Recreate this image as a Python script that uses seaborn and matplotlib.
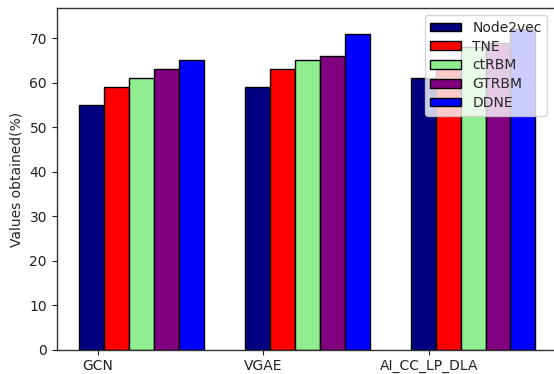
import numpy as np
import pandas as pd
import matplotlib
matplotlib.use("Agg")
import matplotlib.pyplot as plt
import seaborn as sns

# Models compared and methods evaluated on each
models = ["GCN", "VGAE", "AI_CC_LP_DLA"]
methods = ["Node2vec", "TNE", "ctRBM", "GTRBM", "DDNE"]
colors = ["navy", "red", "lightgreen", "purple", "blue"]

node2vec = [55, 59, 61]
tne = [59, 63, 63]
ctrbm = [61, 65, 68]
gtrbm = [63, 66, 69]
ddne = [65, 71, 72]

series = [node2vec, tne, ctrbm, gtrbm, ddne]
df = pd.DataFrame({
    "model": [m for _ in methods for m in models],
    "method": [meth for meth in methods for _ in models],
    "value": [v for s in series for v in s],
})

sns.set_style("ticks")
plt.rcParams["font.family"] = ["DejaVu Sans"]

fig = plt.figure(figsize=(5.54, 3.74), dpi=100)
# the axes run slightly past the right edge of the canvas
x0, x1 = 0.1023, 0.1023 + 0.905
ax = fig.add_axes([x0, 0.065, 0.905, 0.913])

sns.barplot(data=df, x="model", y="value", hue="method", order=models,
            hue_order=methods, palette=colors, saturation=1, width=0.75,
            edgecolor="black", linewidth=1, errorbar=None, ax=ax)

# tick marks sit over the first bar of each group
ax.set_xticks([i - 0.265 for i in range(len(models))])
ax.set_xticklabels(models)
ax.set_xlim(-0.5125, 2.5125)
ax.set_ylim(0, 76.7)
ax.set_xlabel("")
ax.set_ylabel("Values obtained(%)")

for side in ax.spines.values():
    side.set_color("#333333")
    side.set_linewidth(1)
ax.spines["right"].set_visible(False)
ax.tick_params(colors="#222222", labelsize=10)

ax.legend(loc="upper right", frameon=True, framealpha=0.8, fontsize=10,
          labelspacing=0.35, handlelength=2.2, handleheight=0.55,
          bbox_to_anchor=(0.992, 1.0))

fig.savefig("out.png", dpi=100)
